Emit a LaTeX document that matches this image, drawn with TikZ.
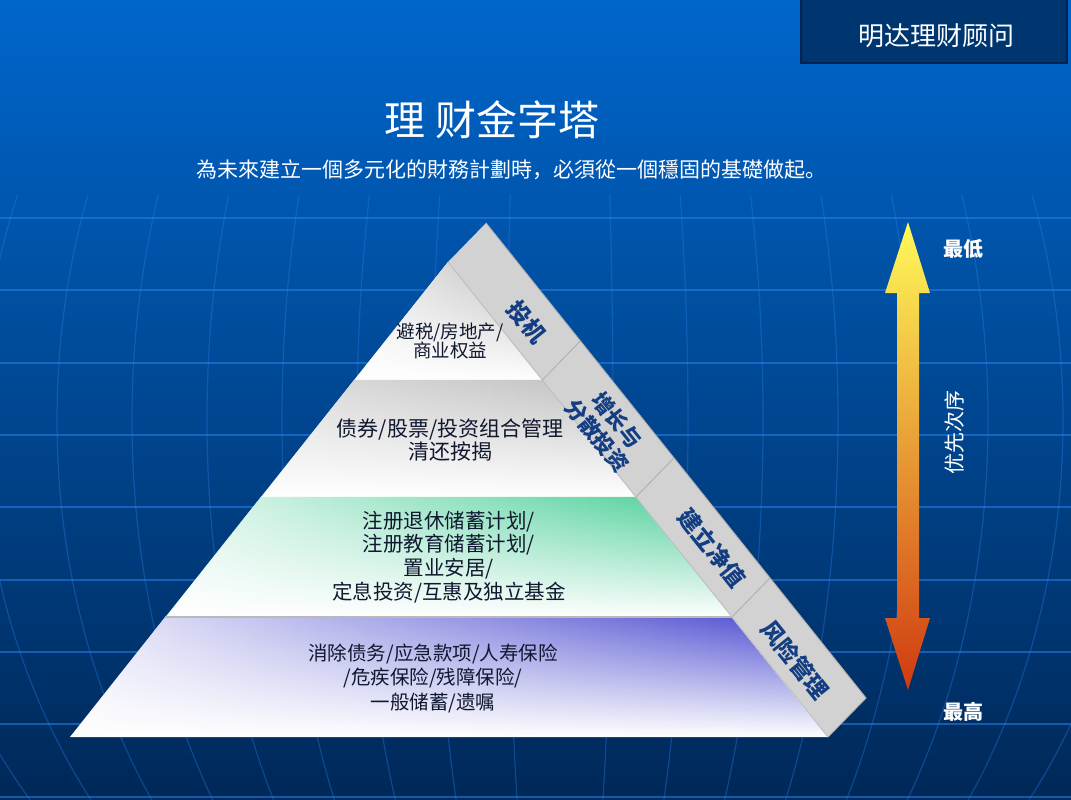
\documentclass[tikz,border=0pt]{standalone}
\usepackage{fontspec}
\setmainfont{Noto Sans CJK SC}
\usepackage{xcolor}
\usepackage{tikz}
\usetikzlibrary{calc,fadings}

\definecolor{bgtop}{RGB}{0,102,204}
\definecolor{bgbot}{RGB}{0,40,88}
\definecolor{gridblue}{RGB}{40,130,235}
\definecolor{boxnavy}{RGB}{0,54,112}
\definecolor{boxedge}{RGB}{0,34,78}
\definecolor{bandgray}{RGB}{210,210,210}
\definecolor{bandtxt}{RGB}{20,62,130}
\definecolor{inktxt}{RGB}{16,24,48}
\definecolor{greenlay}{RGB}{72,206,150}
\definecolor{bluelay}{RGB}{72,72,208}
\definecolor{arrowtop}{RGB}{255,250,90}
\definecolor{arrowmid}{RGB}{234,178,72}
\definecolor{arrowbot}{RGB}{208,58,16}

\tikzfading[name=fadedown, top color=transparent!0, bottom color=transparent!100]

\tikzset{
  layertext/.style={text=inktxt, align=center, font=\fontsize{19}{23.5}\selectfont},
  bandtext/.style={text=bandtxt, align=center, rotate=-51.3, font=\fontsize{23}{26}\selectfont\bfseries},
  whitetext/.style={text=white, align=center},
}

\begin{document}
\begin{tikzpicture}[x=1pt, y=-1pt]
    \useasboundingbox (0,0) rectangle (1071,800);
    % background and globe grid
    \shade[top color=bgtop, bottom color=bgbot] (0,0) rectangle (1071,800);
    \begin{scope}
        \clip (0,195) rectangle (1071,800);
        \foreach \gy in {218,290,363,435,507,580,652,724,797}
            \draw[gridblue, opacity=0.55, line width=1.5] (0,\gy) -- (1071,\gy);
        \foreach \gi in {0,...,8}
            \draw[gridblue, opacity=0.35, line width=1.2] (560,420) ellipse [x radius={53+75*\gi}, y radius=650];
    \end{scope}

    % brand box
    \draw[fill=boxnavy, draw=boxedge, line width=2] (801,-2) rectangle (1067,63);
    \node[whitetext, font=\fontsize{26}{26}\selectfont] (brand) at (936,36) {明达理财顾问};

    % headings
    \node[whitetext, font=\fontsize{41}{41}\selectfont] (title) at (492,120) {理 财金字塔};
    \node[whitetext, font=\fontsize{21}{21}\selectfont] (subtitle) at (511,170) {為未來建立一個多元化的財務計劃時，必須從一個穩固的基礎做起。};

    % pyramid corners
    \coordinate (apex) at (448,262);
    \coordinate (lb) at (70,737);
    \coordinate (rb) at (828,737);
    \coordinate (tip) at (486,223);
    \coordinate (ob) at (866,698);
    \coordinate (l1) at ($(apex)!0.2484!(lb)$);
    \coordinate (r1) at ($(apex)!0.2484!(rb)$);
    \coordinate (l2) at ($(apex)!0.4947!(lb)$);
    \coordinate (r2) at ($(apex)!0.4947!(rb)$);
    \coordinate (l3) at ($(apex)!0.7474!(lb)$);
    \coordinate (r3) at ($(apex)!0.7474!(rb)$);

    % side band
    \fill[bandgray] (apex) -- (tip) -- (ob) -- (rb) -- cycle;
    \draw[gray!60, line width=1] (tip) -- (ob) -- (rb);
    \foreach \c in {r1,r2,r3}
        \draw[gray!60, line width=1] (\c) -- ++(38,-39);

    % layers
    \fill[white] (apex) -- (rb) -- (lb) -- cycle;
    \shade[left color=gray!10, right color=gray!55, path fading=fadedown] (apex) -- (r1) -- (l1) -- cycle;
    \shade[left color=gray!25, right color=gray!50, path fading=fadedown] (l1) -- (r1) -- (r2) -- (l2) -- cycle;
    \shade[left color=greenlay!15!white, right color=greenlay, path fading=fadedown] (l2) -- (r2) -- (r3) -- (l3) -- cycle;
    \shade[left color=bluelay!10!white, right color=bluelay, path fading=fadedown] (l3) -- (r3) -- (rb) -- (lb) -- cycle;
    \draw[gray!55, line width=1.5] (l3) -- (r3);
    \draw[gray!50, line width=1] (apex) -- (rb);

    % layer texts
    \node[layertext, font=\fontsize{18.5}{19}\selectfont] (tax) at (450,341) {避税/房地产/\\商业权益};
    \node[layertext, font=\fontsize{21}{23}\selectfont] (bonds) at (450,440) {债券/股票/投资组合管理\\清还按揭};
    \node[layertext, font=\fontsize{20.5}{23.7}\selectfont] (savings) at (449,557) {注册退休储蓄计划/\\注册教育储蓄计划/\\置业安居/\\定息投资/互惠及独立基金};
    \node[layertext, font=\fontsize{19.5}{24.5}\selectfont] (debt) at (433,678) {消除债务/应急款项/人寿保险\\/危疾保险/残障保险/\\一般储蓄/遗嘱};

    % band labels
    \node[bandtext] (spec) at (527,322) {投机};
    \node[bandtext, font=\fontsize{21.5}{25}\selectfont\bfseries] (growth) at (607,428) {增长与\\分散投资};
    \node[bandtext] (networth) at (712,548) {建立净值};
    \node[bandtext] (risk) at (795,660) {风险管理};

    % priority arrow
    \coordinate (arrtop) at (908,222);
    \shade[top color=arrowtop, middle color=arrowmid, bottom color=arrowbot]
        (arrtop) -- ++(22,71) -- ++(-11,0) -- ++(0,325) -- ++(11,0) -- ++(-22,72)
        -- ++(-23,-72) -- ++(12,0) -- ++(0,-325) -- ++(-12,0) -- cycle;
    \node[whitetext, font=\fontsize{20}{20}\selectfont\bfseries] (lowest) at (963,249) {最低};
    \node[whitetext, font=\fontsize{20}{20}\selectfont\bfseries] (highest) at (963,712) {最高};
    \node[whitetext, rotate=90, font=\fontsize{21}{21}\selectfont] (priority) at (955,432) {优先次序};
\end{tikzpicture}
\end{document}
